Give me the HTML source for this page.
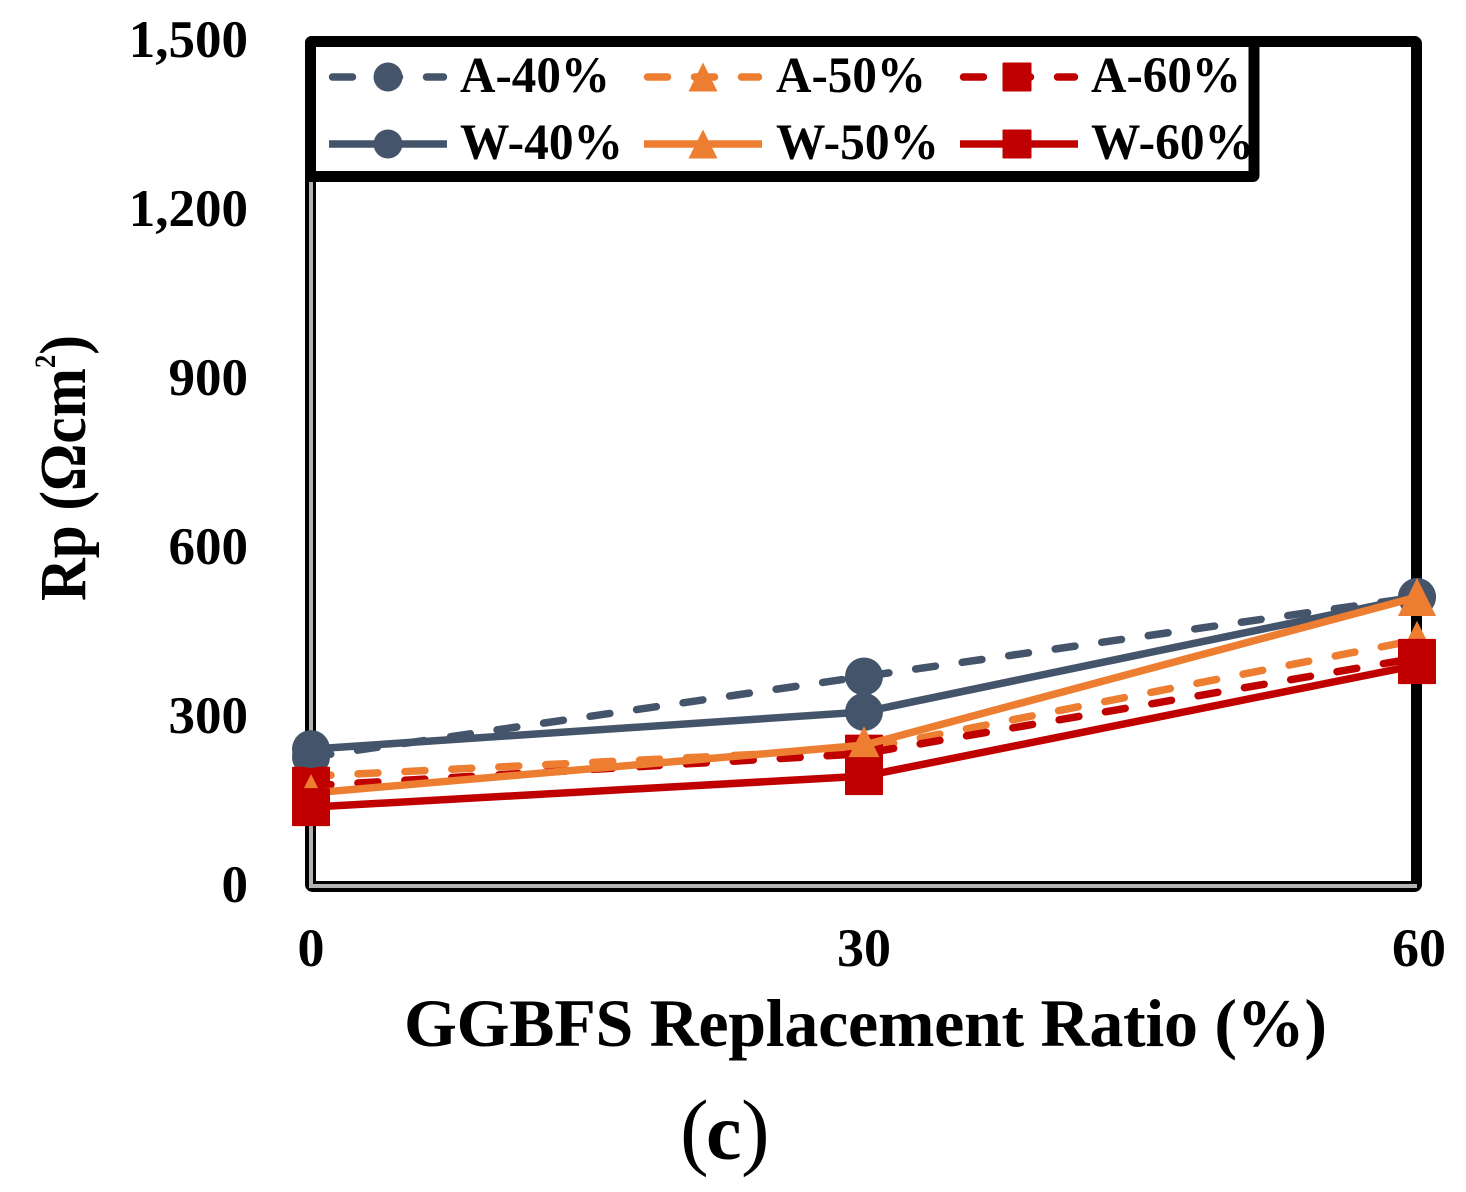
<!DOCTYPE html>
<html lang="en">
<head>
<meta charset="utf-8">
<title>Rp vs GGBFS Replacement Ratio</title>
<style>
html,body{margin:0;padding:0;background:#fff;}
svg{display:block;}
text{font-family:"Liberation Serif","DejaVu Serif",serif;font-weight:bold;fill:#000;}
</style>
</head>
<body>
<svg id="chart" xmlns="http://www.w3.org/2000/svg" width="1466" height="1192" viewBox="0 0 1466 1192">
  <rect x="0" y="0" width="1466" height="1192" fill="#fff"/>
  <g id="frame">
    <rect x="310.5" y="41.5" width="1106" height="845" rx="2" fill="none" stroke="#000" stroke-width="11"/>
    <path d="M311 182V886H1417" fill="none" stroke="#b3b3b3" stroke-width="4"/>
  </g>
  <g id="series-layer"></g>
  <g id="y-ticks"></g>
  <g id="x-ticks"></g>
  <g id="legend">
    <rect x="310.5" y="41.5" width="943.5" height="135" rx="1" fill="#fff" stroke="#000" stroke-width="11"/>
  </g>
  <text transform="translate(85 601) rotate(-90)" font-size="66" textLength="266" lengthAdjust="spacingAndGlyphs">Rp (Ωcm<tspan font-size="30" dy="-30">2</tspan><tspan dy="30">)</tspan></text>
  <text x="404" y="1046" font-size="68" textLength="923" lengthAdjust="spacing">GGBFS Replacement Ratio (%)</text>
  <text y="1159"><tspan x="680" font-size="86" font-weight="normal">(</tspan><tspan x="706" font-size="80">c</tspan><tspan x="741" font-size="86" font-weight="normal">)</tspan></text>
</svg>
<script>
var categories = [0, 30, 60];
var yTickValues = [0, 300, 600, 900, 1200, 1500];
var yTickLabels = ["0", "300", "600", "900", "1,200", "1,500"];
var xTickLabels = ["0", "30", "60"];
var a40Values = [229, 372, 513];
var a50Values = [195, 243, 437];
var a60Values = [178, 235, 405];
var w40Values = [243, 309, 513];
var w50Values = [165, 250, 513];
var w60Values = [140, 195, 392];
var seriesNames = ["A-40%", "A-50%", "A-60%", "W-40%", "W-50%", "W-60%"];

var SVGNS = "http://www.w3.org/2000/svg";
var X0 = 311, X1 = 1417, Y0 = 886, Y1 = 41;
function xScale(v) { return X0 + (v - 0) / 60 * (X1 - X0); }
function yScale(v) { return Y0 - (v - 0) / 1500 * (Y0 - Y1); }

function make(tag, attrs, parent) {
  var el = document.createElementNS(SVGNS, tag);
  for (var k in attrs) { el.setAttribute(k, attrs[k]); }
  parent.appendChild(el);
  return el;
}

function drawMarker(parent, shape, color, cx, cy, s, name) {
  var el;
  if (shape === "circle") {
    el = make("circle", { cx: cx, cy: cy, r: s, fill: color }, parent);
  } else if (shape === "triangle") {
    el = make("polygon", { points: cx + "," + (cy - s) + " " + (cx + s) + "," + (cy + s) + " " + (cx - s) + "," + (cy + s), fill: color }, parent);
  } else {
    el = make("rect", { x: cx - s, y: cy - s, width: 2 * s, height: 2 * s, rx: 1, fill: color }, parent);
  }
  
  
}

var slate = "#44546A", orange = "#ED7D31", red = "#C00000";
var seriesList = [
  { key: "a-40", values: a40Values, color: slate, shape: "circle", dashed: true },
  { key: "a-50", values: a50Values, color: orange, shape: "triangle", dashed: true },
  { key: "a-60", values: a60Values, color: red, shape: "square", dashed: true },
  { key: "w-40", values: w40Values, color: slate, shape: "circle", dashed: false },
  { key: "w-50", values: w50Values, color: orange, shape: "triangle", dashed: false },
  { key: "w-60", values: w60Values, color: red, shape: "square", dashed: false }
];

var layer = document.getElementById("series-layer");
seriesList.forEach(function (s) {
  var g = make("g", {}, layer);
  
  
  var pts = s.values.map(function (v, i) { return xScale(categories[i]) + "," + yScale(v); }).join(" ");
  var line = make("polyline", { points: pts, fill: "none", stroke: s.color, "stroke-width": 7.5 }, g);
  if (s.dashed) {
    line.setAttribute("stroke-dasharray", "20 27");
    line.setAttribute("stroke-linecap", "round");
  }
  
  
  s.values.forEach(function (v, i) {
    drawMarker(g, s.shape, s.color, xScale(categories[i]), yScale(v), 19, 'point-' + s.key);
  });
});

var yTickGroup = document.getElementById("y-ticks");
yTickValues.forEach(function (v, i) {
  var t = make("text", { x: 248, y: yScale(v) + 16, "font-size": 53, "text-anchor": "end" }, yTickGroup);
  t.textContent = yTickLabels[i];
  
  
});

var xTickGroup = document.getElementById("x-ticks");
categories.forEach(function (v, i) {
  var t = make("text", { x: xScale(v) + (i === 2 ? 2 : 0), y: 966, "font-size": 54, "text-anchor": "middle" }, xTickGroup);
  t.textContent = xTickLabels[i];
  
  
});

var legend = document.getElementById("legend");
var legendCols = [388, 703, 1019];
var legendMarkerCols = [388, 703, 1017];
var legendTextX = [460, 776, 1091];
var legendRows = [77, 144];
seriesList.forEach(function (s, i) {
  var col = i % 3, row = Math.floor(i / 3);
  var cx = legendCols[col], cy = legendRows[row];
  var g = make("g", {}, legend);
  
  
  var line = make("line", { x1: cx - 59, y1: cy, x2: cx + 59, y2: cy, stroke: s.color, "stroke-width": 7.5 }, g);
  if (s.dashed) {
    line.setAttribute("x1", cx - 55.5);
    line.setAttribute("x2", cx + 55.5);
    line.setAttribute("stroke-dasharray", "20 27");
    line.setAttribute("stroke-linecap", "round");
  }
  
  
  drawMarker(g, s.shape, s.color, legendMarkerCols[col], cy, 14.5, 'legend-marker');
  var t = make("text", { x: legendTextX[col], y: cy + 15, "font-size": 51, textLength: row === 0 ? 150 : 163, lengthAdjust: "spacingAndGlyphs" }, g);
  t.textContent = seriesNames[i];
  
  
});
</script>
</body>
</html>
